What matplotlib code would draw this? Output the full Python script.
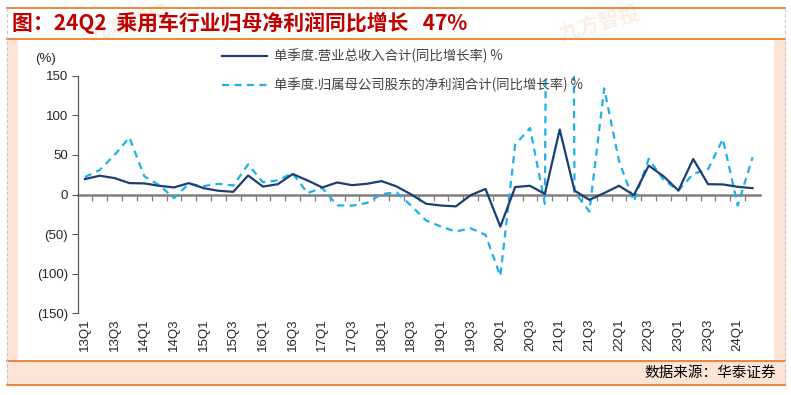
import matplotlib
matplotlib.use("Agg")
import matplotlib.pyplot as plt
from matplotlib.lines import Line2D
from matplotlib.patches import Rectangle
from matplotlib.ticker import FuncFormatter, FixedLocator
import numpy as np

plt.rcParams['font.family'] = ['Liberation Sans', 'Noto Sans CJK SC', 'DejaVu Sans']

# quarters 13Q1 .. 24Q2
quarters = [f"{y}Q{q}" for y in range(13, 25) for q in range(1, 5)][:46]

# single-quarter revenue yoy (%)
revenue_yoy = [19.5, 23.7, 20.7, 14.4, 14.0, 11.0, 8.9, 14.4, 8.0, 4.7,
               3.4, 24.0, 10.0, 13.0, 25.8, 17.8, 8.9, 15.2, 11.8, 13.5,
               16.9, 10.2, 0.0, -11.7, -13.9, -15.0, -0.8, 7.0, -40.5, 9.4,
               11.0, 0.6, 82.0, 4.9, -6.7, 1.8, 11.0, -0.8, 36.5, 23.0,
               5.0, 44.8, 13.0, 12.7, 9.7, 8.0]

# single-quarter net profit attributable to parent yoy (%)
profit_yoy = [22.0, 31.0, 50.0, 72.0, 23.0, 12.0, -4.6, 13.5, 10.6, 13.5,
              11.4, 38.0, 15.4, 17.9, 27.0, 1.8, 8.2, -13.7, -14.1, -10.7,
              0.6, 2.7, -14.3, -32.9, -40.5, -46.8, -42.6, -51.0, -103.0, 63.0,
              84.0, -11.8, 3000.0, 3.0, -21.5, 134.0, 42.0, -8.8, 45.0, 18.6,
              5.0, 26.0, 32.0, 70.0, -14.0, 47.0]

legend_labels = ["单季度.营业总收入合计(同比增长率) %",
                 "单季度.归属母公司股东的净利润合计(同比增长率) %"]
title_text = "图：24Q2  乘用车行业归母净利润同比增长   47%"
source_text = "数据来源：华泰证券"

W, H = 791, 395
fig = plt.figure(figsize=(W / 100, H / 100), dpi=100)


def fx(px):
    return px / W


def fy(py):
    return 1 - py / H


orange = '#ED7D31'
beige = '#FCE4D6'

# frame decoration
fig.patches.append(Rectangle((fx(7), fy(361)), fx(10), fy(40) - fy(361),
                             transform=fig.transFigure, color=beige, zorder=0))
fig.patches.append(Rectangle((fx(774), fy(361)), fx(11), fy(40) - fy(361),
                             transform=fig.transFigure, color=beige, zorder=0))
fig.patches.append(Rectangle((fx(7), fy(385)), fx(778), fy(361) - fy(385),
                             transform=fig.transFigure, color=beige, zorder=0))
for yy in (8, 39, 361, 385):
    fig.lines.append(Line2D([fx(7), fx(785)], [fy(yy), fy(yy)],
                            transform=fig.transFigure, color=orange, lw=1.3))
for xx in (7, 785):
    fig.lines.append(Line2D([fx(xx), fx(xx)], [fy(8), fy(385)],
                            transform=fig.transFigure, color='#C8C8C8', lw=0.8,
                            ls=(0, (3, 2))))

# faint watermarks
for wx, wy in [(130, 24), (600, 24)]:
    fig.text(fx(wx), fy(wy), "九方智投", fontsize=15, color='#FDEEE4', rotation=15,
             ha='center', va='center', family=['Noto Sans CJK SC'], weight='bold',
             zorder=0)

fig.text(fx(12), fy(23), title_text, fontsize=15, weight='bold', color='#C00000',
         ha='left', va='center', family=['Noto Sans CJK SC'], zorder=2)
fig.text(fx(776), fy(373), source_text, fontsize=10.5, color='black',
         ha='right', va='center', family=['Noto Sans CJK SC'])
fig.text(fx(46), fy(59), "(%)", fontsize=9.5, color='#262626', ha='center', va='center')

ax = fig.add_axes([fx(77.5), fy(313.3), fx(760) - fx(77.5), fy(75.7) - fy(313.3)])
ax.patch.set_alpha(0)

x = np.arange(len(quarters))
l1, = ax.plot(x, revenue_yoy, color='#1B3F73', lw=1.6, zorder=3)
l2, = ax.plot(x, profit_yoy, color='#1FB0EC', lw=1.6, ls=(0, (3.2, 2.4)), zorder=2)

ax.set_xlim(-0.5, len(quarters) - 0.5)
ax.set_ylim(-150, 150)
ax.set_yticks([150, 100, 50, 0, -50, -100, -150])
ax.yaxis.set_major_formatter(FuncFormatter(lambda v, p: f"({abs(v):.0f})" if v < 0 else f"{v:.0f}"))
ax.tick_params(axis='y', direction='out', length=4, width=0.8, color='#595959',
               labelsize=9.5, labelcolor='#262626', pad=3)

for s in ('top', 'right'):
    ax.spines[s].set_visible(False)
ax.spines['left'].set_color('#595959')
ax.spines['left'].set_linewidth(0.9)
ax.spines['bottom'].set_position(('data', 0))
ax.spines['bottom'].set_color('#7F7F7F')
ax.spines['bottom'].set_linewidth(1.8)
ax.spines['bottom'].set_zorder(1)

ax.xaxis.set_major_locator(FixedLocator([]))
ax.xaxis.set_minor_locator(FixedLocator(x[:-1] + 0.5))
ax.tick_params(axis='x', which='minor', direction='out', length=4, width=0.9,
               color='#7F7F7F')

sec = ax.secondary_xaxis(0)
sec.set_xticks(x[::2], [quarters[i] for i in x[::2]])
sec.tick_params(length=0, pad=4, labelsize=9.5, labelcolor='#262626', labelrotation=90)
sec.spines['bottom'].set_visible(False)

fig.legend([l1, l2], legend_labels, loc='upper left',
           bbox_to_anchor=(fx(222), fy(49)), frameon=False, borderpad=0,
           borderaxespad=0, handlelength=3.4, handletextpad=0.5, labelspacing=1.05,
           prop={'family': ['Noto Sans CJK SC'], 'size': 9.6}, labelcolor='#404040')

fig.savefig("out.png", dpi=100)
